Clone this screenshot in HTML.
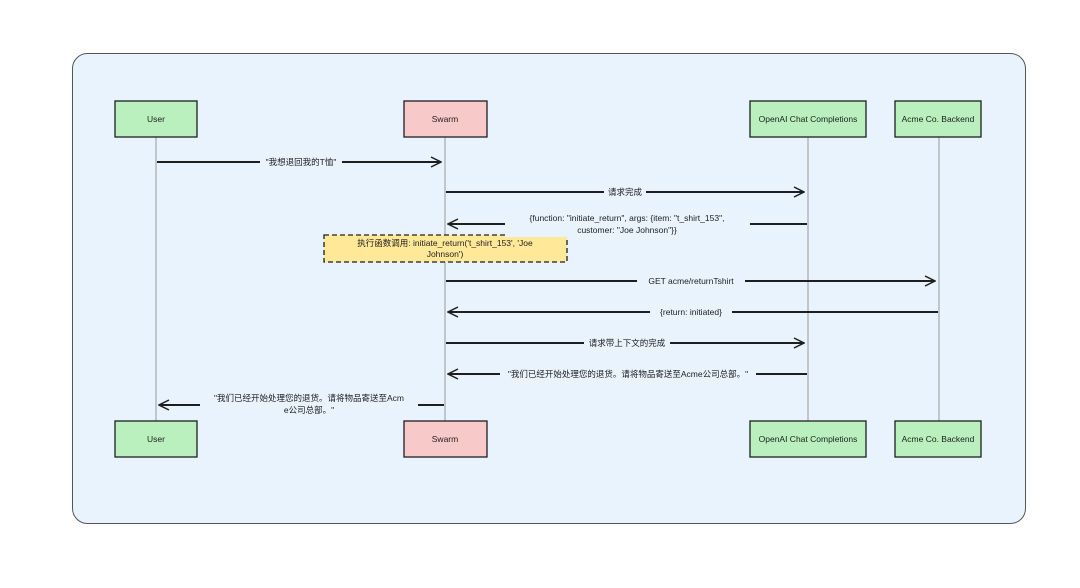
<!DOCTYPE html>
<html><head><meta charset="utf-8"><style>
html,body{margin:0;padding:0;background:#fff;}
svg text{font-family:"Liberation Sans","Noto Sans CJK SC",sans-serif;font-size:8.5px;fill:#1e1e1e;}
</style></head><body>
<svg width="1080" height="583" viewBox="0 0 1080 583" xmlns="http://www.w3.org/2000/svg">
<defs><marker id="a" viewBox="0 0 12 12" refX="11" refY="6" markerWidth="12" markerHeight="12" markerUnits="userSpaceOnUse" orient="auto"><path d="M1 1 L11 6 L1 11" fill="none" stroke="#1e1e1e" stroke-width="1.5"/></marker></defs>
<rect x="72.5" y="53.5" width="953" height="470" rx="15" fill="#e8f3fd" stroke="#555" stroke-width="1"/>
<g stroke="#999" stroke-width="1">
<line x1="156" y1="137" x2="156" y2="421"/><line x1="445" y1="137" x2="445" y2="421"/>
<line x1="808" y1="137" x2="808" y2="421"/><line x1="939" y1="137" x2="939" y2="421"/>
</g>
<g stroke="#1e1e1e" stroke-width="1.3">
<rect x="115" y="101" width="82" height="36" fill="#b9f0bd"/><rect x="404" y="101" width="83" height="36" fill="#f8c9c9"/>
<rect x="750" y="101" width="116" height="36" fill="#b9f0bd"/><rect x="895" y="101" width="86" height="36" fill="#b9f0bd"/>
<rect x="115" y="421" width="82" height="36" fill="#b9f0bd"/><rect x="404" y="421" width="83" height="36" fill="#f8c9c9"/>
<rect x="750" y="421" width="116" height="36" fill="#b9f0bd"/><rect x="895" y="421" width="86" height="36" fill="#b9f0bd"/>
</g>
<g text-anchor="middle">
<text x="156" y="122">User</text><text x="445" y="122">Swarm</text><text x="808" y="122">OpenAI Chat Completions</text><text x="938" y="122">Acme Co. Backend</text>
<text x="156" y="442">User</text><text x="445" y="442">Swarm</text><text x="808" y="442">OpenAI Chat Completions</text><text x="938" y="442">Acme Co. Backend</text>
</g>
<rect x="324" y="235" width="243" height="27" fill="#ffe897" stroke="#1e1e1e" stroke-width="1.3" stroke-dasharray="5 3"/>
<text x="445" y="246" text-anchor="middle">执行函数调用: initiate_return('t_shirt_153', 'Joe</text>
<text x="445" y="257" text-anchor="middle">Johnson')</text>
<g stroke="#1e1e1e" stroke-width="2" fill="none" marker-end="url(#a)">
<path d="M157 162 H441"/><path d="M446 192 H804"/><path d="M807 224 H448"/>
<path d="M446 281 H935"/><path d="M938 312 H448"/><path d="M446 343 H804"/>
<path d="M807 374 H448"/><path d="M444 405 H159"/>
</g>
<g fill="#e8f3fd">
<rect x="260" y="155" width="82" height="13"/><rect x="604" y="185" width="42" height="13"/>
<rect x="505" y="211" width="245" height="26"/><rect x="637" y="274" width="108" height="13"/>
<rect x="650" y="305" width="82" height="13"/><rect x="584" y="336" width="86" height="13"/>
<rect x="500" y="367" width="256" height="13"/><rect x="200" y="392" width="218" height="26"/>
</g>
<g text-anchor="middle">
<text x="301" y="165">"我想退回我的T恤"</text>
<text x="625" y="195">请求完成</text>
<text x="627" y="221">{function: "initiate_return", args: {item: "t_shirt_153",</text>
<text x="627" y="233">customer: "Joe Johnson"}}</text>
<text x="691" y="284">GET acme/returnTshirt</text>
<text x="691" y="315">{return: initiated}</text>
<text x="627" y="346">请求带上下文的完成</text>
<text x="628" y="377">"我们已经开始处理您的退货。请将物品寄送至Acme公司总部。"</text>
<text x="309" y="401">"我们已经开始处理您的退货。请将物品寄送至Acm</text>
<text x="309" y="413">e公司总部。"</text>
</g>
</svg>
</body></html>
